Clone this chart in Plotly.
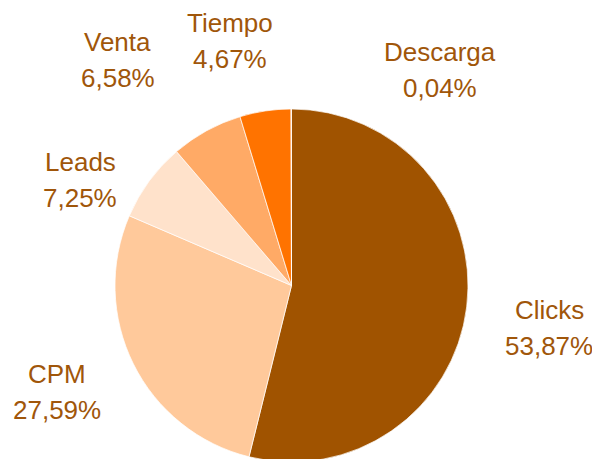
import plotly.graph_objects as go

# share of each channel (percent), clockwise from 12 o'clock
labels = ["Clicks", "CPM", "Leads", "Venta", "Tiempo", "Descarga"]
shares = [53.87, 27.59, 7.25, 6.58, 4.67, 0.04]

slice_colours = ["#A05300", "#FFC99B", "#FFE2CB", "#FFAA66", "#FF7300", "#FFB070"]
text_colour = "#A0560A"

# label block centres in window pixels (x from left, y from top)
label_pos_px = [(549, 328), (57, 392), (80, 180), (118, 60), (230, 41), (440, 70)]

W, H = 600, 459
PAGE_MARGIN = 8  # default body margin of the page shifts the figure


def px_to_paper(px, py):
    return (px - PAGE_MARGIN) / W, 1 - (py - PAGE_MARGIN) / H


# pie bounding box in window pixels: left, right, top, bottom
pie_left, pie_top = px_to_paper(115, 109)
pie_right, pie_bottom = px_to_paper(468, 462)

fig = go.Figure()
fig.add_trace(
    go.Pie(
        labels=labels,
        values=shares,
        sort=False,
        direction="clockwise",
        rotation=0,
        textinfo="none",
        hoverinfo="label+percent",
        marker={"colors": slice_colours, "line": {"color": "rgba(255,255,255,0.7)", "width": 1}},
        domain={"x": [pie_left, pie_right], "y": [pie_bottom, pie_top]},
        showlegend=False,
    )
)

font = {"family": "Liberation Sans, Arial, sans-serif", "size": 26, "color": text_colour}
annotations = []
for name, val, (px, py) in zip(labels, shares, label_pos_px):
    pct = f"{val:.2f}%".replace(".", ",")
    ax, ay = px_to_paper(px, py)
    for txt, shift in ((name, 18), (pct, -18)):
        annotations.append(
            dict(
                x=ax,
                y=ay,
                xref="paper",
                yref="paper",
                text=txt,
                showarrow=False,
                xanchor="center",
                yanchor="middle",
                yshift=shift,
                font=font,
            )
        )

fig.update_layout(
    width=W,
    height=H,
    margin={"l": 0, "r": 0, "t": 0, "b": 0},
    paper_bgcolor="white",
    plot_bgcolor="white",
    annotations=annotations,
)

fig.write_html("out.html")
